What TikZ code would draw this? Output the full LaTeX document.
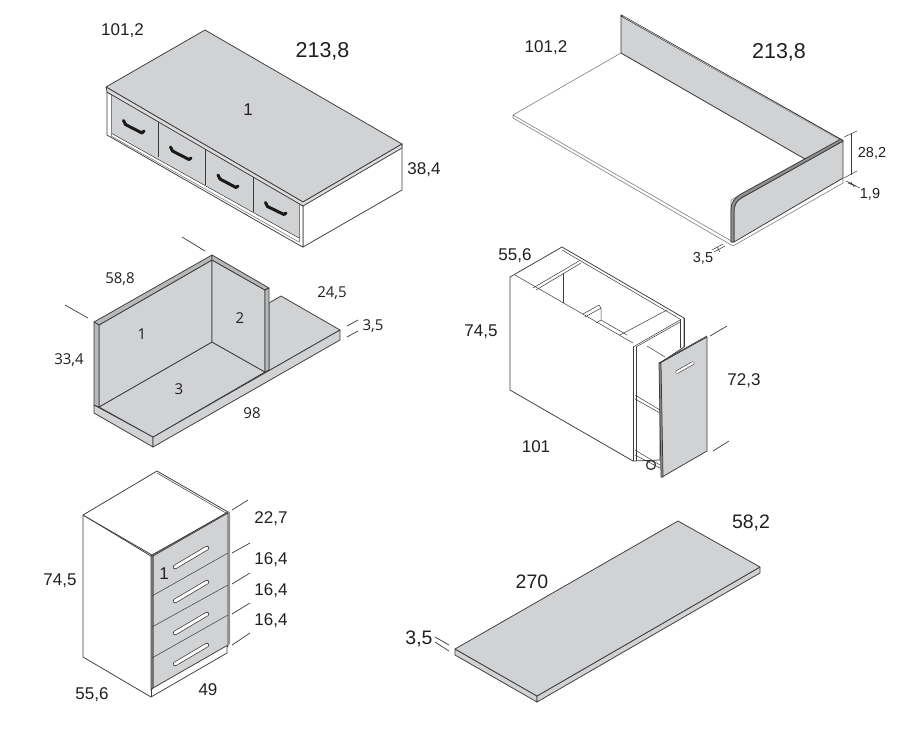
\documentclass[tikz,border=0pt]{standalone}
\usepackage{fontspec}
\setmainfont{Liberation Sans}
\newfontfamily\myr{Open Sans}
\definecolor{fillg}{HTML}{D1D2D4}
\definecolor{bandg}{HTML}{B7B8BA}
\definecolor{stripg}{HTML}{8F9092}
\definecolor{ink}{HTML}{3A3A3A}
\definecolor{txt}{HTML}{231F20}
\tikzset{
 ln/.style={draw=ink,line width=0.75pt,line join=round},
 thn/.style={draw=ink,line width=0.5pt,line join=round},
 lite/.style={draw=ink!65,line width=0.6pt,line join=round},
 gf/.style={fill=fillg,ln},
 bf/.style={fill=bandg,ln},
 sf/.style={fill=stripg,ln},
 wf/.style={fill=white,ln},
 lead/.style={draw=ink,line width=0.7pt},
 grip/.style={draw=black!90,line width=3pt,line cap=round,line join=round},
 slotout/.style={draw=ink,line width=4.4pt,line cap=round},
 slotin/.style={draw=white,line width=3pt,line cap=round},
 big/.style={text=txt,inner sep=0pt,yshift=-0.8pt,font=\fontsize{21.5}{22}\selectfont},
 mid/.style={text=txt,inner sep=0pt,yshift=-1pt,font=\fontsize{17}{18}\selectfont},
 sml/.style={text=txt,inner sep=0pt,yshift=-0.6pt,font=\fontsize{14.5}{15}\selectfont},
 myl/.style={text=txt,inner sep=0pt,yshift=-0.6pt,font=\myr\fontsize{15}{16}\selectfont},
}
\begin{document}
\begin{tikzpicture}[x=1pt,y=-1pt]
\useasboundingbox (0,0) rectangle (900,732);
\fill[white] (0,0) rectangle (900,732);

% ---- Figure 1: bed ----
\path[wf] (303,202) -- (402,144) -- (402,190) -- (303,247) -- cycle;
\path[wf] (107,92) -- (303,206) -- (303,247) -- (299,245) -- (107,135) -- cycle;
\path[gf,draw=none] (111,94) -- (299,204) -- (299,238) -- (111,133) -- cycle;
\draw[thn] (111,133) -- (299,238);
\draw[lite] (111,136) -- (299,242);
\draw[lite] (111,94) -- (111,136);
\draw[ln] (158,122) -- (158,157) (205,149) -- (205,185) (253,177) -- (253,212);
\draw[lite] (299,204) -- (299,242);
\path[gf] (205,30) -- (402,144) -- (303,202) -- (106,87) -- cycle;
\path[fill=fillg!75,ln] (106,87) -- (303,202) -- (402,144) -- (402,148) -- (303,206) -- (107,92) -- cycle;
\draw[grip] (123.5,120.5) -- (125.5,124.5) -- (142,133) -- (144,131);
\draw[grip] (170.5,147) -- (172.5,151) -- (189,159.5) -- (191,158);
\draw[grip] (218,175) -- (220,179) -- (236,187.5) -- (238,186);
\draw[grip] (265.5,202.5) -- (267.5,206.5) -- (284,214.5) -- (286,213);
\node[mid] (a1) at (122.5,30) {101,2};
\node[big] (a2) at (322.5,51) {213,8};
\node[mid] (a3) at (424,169) {38,4};
\node[mid] (a4) at (248,109) {1};

% ---- Figure 2: back and side panel ----
\path[fill=white,lite] (513,115) -- (621,53) -- (805,159) -- (731,200) -- (731,242) -- (733,242) -- (843,178) -- (843,183) -- (733,246) -- (513,118) -- cycle;
\draw[lite] (513,115) -- (733,242);
\path[gf] (621,15) -- (843,141) -- (805,159) -- (621,53) -- cycle;
\draw[ln,line width=1.7pt] (621,15.5) -- (843,141);
\draw[fillg!60,line width=0.45pt] (623,16.5) -- (841,140.5);
\path[gf] (734,242) -- (734,212) .. controls (734,204) and (737,200) .. (743,197) -- (843,141) -- (843,178) -- cycle;
\path[sf] (731,242) -- (731,210) .. controls (731,203) and (734,198) .. (741,194) -- (841,139) -- (843,141) -- (743,197) .. controls (737,200) and (734,204) .. (734,212) -- (734,242) -- cycle;
\draw[thn] (851,133) -- (851,175);
\draw[thn] (844,137) -- (857,131) (844,178) -- (857,171);
\draw[thn] (846,181) -- (856,186) (848,183) -- (860,188) (851,182) -- (854,187);
\draw[thn] (714,252) -- (725,246) (712,250) -- (723,244) (717,247) -- (720,252);
\node[mid] (b1) at (546,47) {101,2};
\node[big] (b2) at (779,52) {213,8};
\node[sml] (b3) at (872,153) {28,2};
\node[sml] (b4) at (870,194) {1,9};
\node[sml] (b5) at (703,258) {3,5};

% ---- Figure 3: L-shaped unit ----
\path[gf] (94,405) -- (99,407) -- (265,372) -- (269,370) -- (269,303) -- (281,296) -- (340,330) -- (153,437) -- cycle;
\path[gf] (94,405) -- (153,437) -- (153,447) -- (94,413) -- cycle;
\path[gf] (153,437) -- (340,330) -- (340,340) -- (153,447) -- cycle;
\path[gf] (99,407) -- (212,342) -- (265,372) -- (153,437) -- cycle;
\path[gf] (99,325) -- (212,260) -- (212,342) -- (99,407) -- cycle;
\path[gf] (212,260) -- (265,290) -- (265,372) -- (212,342) -- cycle;
\path[bf] (94,322) -- (212,255) -- (212,260) -- (99,325) -- cycle;
\path[bf] (212,255) -- (269,288) -- (265,290) -- (212,260) -- cycle;
\path[bf] (94,322) -- (99,325) -- (99,407) -- (94,405) -- cycle;
\path[bf] (265,290) -- (269,288) -- (269,370) -- (265,372) -- cycle;
\draw[lead] (182,237) -- (205,251) (65,305) -- (88,318) (347,326) -- (358,320) (347,337) -- (358,331);
\node[myl] (c1) at (120,278) {58,8};
\node[myl] (c2) at (332,292) {24,5};
\node[myl] (c3) at (373,325) {3,5};
\node[myl] (c4) at (69,359) {33,4};
\node[myl] (c5) at (142,334) {1};
\node[myl] (c6) at (240,317) {2};
\node[myl] (c7) at (179,389) {3};
\node[myl] (c8) at (252,413) {98};

% ---- Figure 4: cabinet with pull-out ----
\path[wf] (510,277) -- (562,247) -- (684,318) -- (684,347) -- (660,363) -- (660,460) -- (633,461) -- (510,390) -- cycle;
\draw[thn] (515,275) -- (633,343) (562,250) -- (680,319);
\draw[thn] (533,288) -- (579,261) (536,290) -- (581,263);
\draw[thn] (563,273) -- (563,303);
\draw[thn] (583,314) -- (599,305) -- (601,308) -- (601,320) -- (596,323) (585,317) -- (601,308) (601,320) -- (627,335);
\draw[thn] (620,335) -- (667,310) (633,347) -- (680,320) (636,347) -- (680,322);
\draw[ln] (680,319) -- (680,348) (684,318) -- (684,347);
\draw[thn] (647,346) -- (665,357);
\draw[thn] (635,395) -- (660,410) (635,399) -- (660,413);
\draw[thn] (635,450) -- (660,465) (635,455) -- (660,468);
\draw[ln] (633,347) -- (633,461) (636,347) -- (636,461);
\draw[ln,line width=1.3pt] (651,465) circle (4.5);
\path[gf] (660,363) -- (707,337) -- (707,451) -- (662,477) -- cycle;
\path[sf] (659,363) -- (661,363) -- (663,477) -- (661,477) -- cycle;
\draw[ln] (659,363) -- (707,336);
\draw[ink,line width=3.4pt,line cap=round] (677,372) -- (693,363);
\draw[white,line width=2.2pt,line cap=round] (677,372) -- (693,363);
\draw[lead] (710,336) -- (727,326) (713,451) -- (729,441);
\node[mid] (d1) at (515,255) {55,6};
\node[mid] (d2) at (481,331) {74,5};
\node[mid] (d3) at (744,380) {72,3};
\node[mid] (d4) at (536,446) {101};

% ---- Figure 5: drawer unit ----
\path[wf] (83,515) -- (151,556) -- (228,512) -- (228,646) -- (227,647) -- (227,653) -- (151,697) -- (83,657) -- cycle;
\path[wf] (157,471) -- (228,512) -- (152,555) -- (83,515) -- cycle;
\draw[thn] (157,473) -- (226,513);
\path[gf] (153,556) -- (228,513) -- (228,645) -- (153,688) -- cycle;
\path[sf] (151,556) -- (153,556) -- (153,688) -- (151,690) -- cycle;
\path[sf,draw=none] (228,512) -- (230,511.5) -- (230,644) -- (228,645) -- cycle;
\draw[ln] (151,690) -- (151,697);
\draw[thn] (152,596) -- (228,553) (152,627) -- (228,585) (152,658) -- (228,615);
\foreach \ya/\yb in {567/548,601/582,633/614,664/645}{
 \draw[slotout] (175,\ya) -- (207,\yb);
 \draw[slotin] (175,\ya) -- (207,\yb);
}
\draw[lead] (232,510) -- (248,500) (232,553) -- (250,543) (232,584) -- (250,573) (232,614) -- (250,603) (232,645) -- (250,633);
\node[mid] (e1) at (271,518) {22,7};
\node[mid] (e2) at (271,559) {16,4};
\node[mid] (e3) at (271,590) {16,4};
\node[mid] (e4) at (271,620) {16,4};
\node[mid] (e5) at (60,580) {74,5};
\node[mid] (e6) at (92,694) {55,6};
\node[mid] (e7) at (208,689) {49};
\node[mid] (e8) at (164,573) {1};

% ---- Figure 6: top board ----
\path[gf] (455,649) -- (537,696) -- (537,702) -- (455,655) -- cycle;
\path[gf] (537,696) -- (760,567) -- (760,573) -- (537,702) -- cycle;
\path[gf] (678,521) -- (760,567) -- (537,696) -- (455,649) -- cycle;
\draw[lead] (435,637) -- (449,645) (435,642) -- (449,651);
\node[mid,font=\fontsize{19.5}{20}\selectfont] (f1) at (751,522) {58,2};
\node[mid,font=\fontsize{19.5}{20}\selectfont] (f2) at (532,581) {270};
\node[mid,font=\fontsize{19.5}{20}\selectfont] (f3) at (419,638) {3,5};
\end{tikzpicture}
\end{document}
